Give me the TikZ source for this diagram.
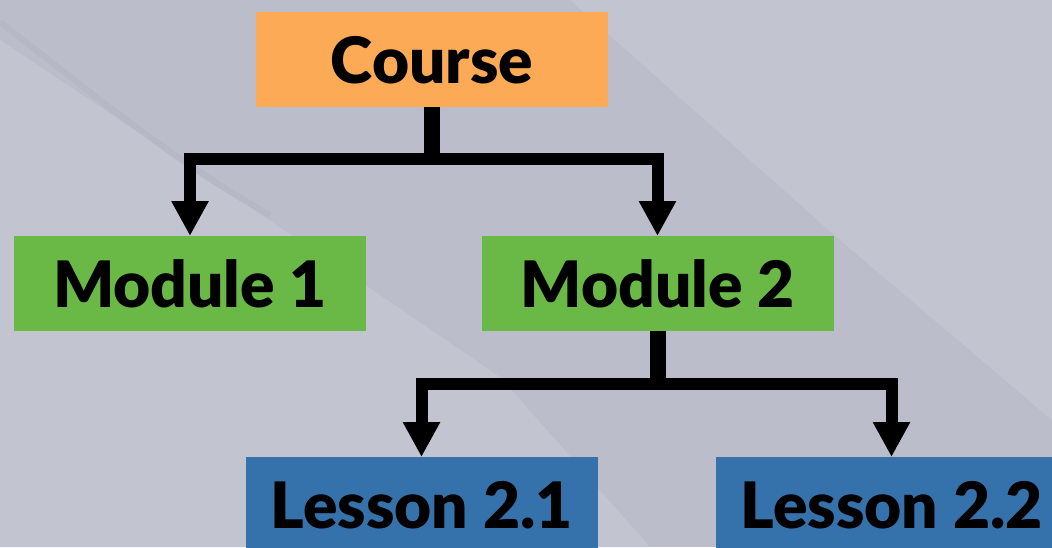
\documentclass[tikz,border=0pt]{standalone}
\usepackage{fontspec}
\setmainfont{Lato}[BoldFont={Lato Black}]
\usetikzlibrary{arrows.meta}
\definecolor{bgmain}{RGB}{187,190,202}
\definecolor{bglight}{RGB}{194,196,207}
\definecolor{bgdark}{RGB}{182,185,197}
\definecolor{coursecol}{RGB}{253,170,86}
\definecolor{modcol}{RGB}{106,184,69}
\definecolor{lescol}{RGB}{53,114,171}

\begin{document}
\begin{tikzpicture}[x=1pt, y=-1pt, line width=12pt,
    box/.style={rectangle, minimum width=352pt, minimum height=95pt, inner sep=0pt,
        outer sep=0pt, text height=48pt, text depth=0pt,
        font=\fontsize{64}{70}\selectfont\bfseries},
    stem/.style={draw=black, line width=16pt},
    branch/.style={draw=black, line width=12pt, line join=miter,
        -{Triangle[width=35pt, length=35pt]}}]
\useasboundingbox (0,0) rectangle (1052,547);
% background
\fill[bgmain] (0,0) rectangle (1052,547);
\fill[bglight] (0,40) .. controls (150,140) and (300,240) .. (500,377)
    -- (650,547) -- (0,547) -- cycle;
\fill[bglight] (570,0) -- (840,240) -- (1052,420) -- (1052,0) -- cycle;
\draw[bgdark, line width=6pt] (0,22) .. controls (100,100) and (180,165) .. (270,215);
\draw (432,59) node[box, fill=coursecol](course){Course}
    (190,283.5) node[box, fill=modcol](mod1){Module 1}
    (657.5,283.5) node[box, fill=modcol](mod2){Module 2}
    (421.5,504.5) node[box, fill=lescol](les1){Lesson 2.1}
    (891.5,504.5) node[box, fill=lescol](les2){Lesson 2.2};
\coordinate (j1) at (432,159);
\coordinate (j2) at (657.5,384);
\draw [stem] (course) -- (j1);
\draw [branch] (j1) -| (mod1);
\draw [branch] (j1) -| (mod2);
\draw [stem] (mod2) -- (j2);
\draw [branch] (j2) -| (les1);
\draw [branch] (j2) -| (les2);
\end{tikzpicture}
\end{document}
